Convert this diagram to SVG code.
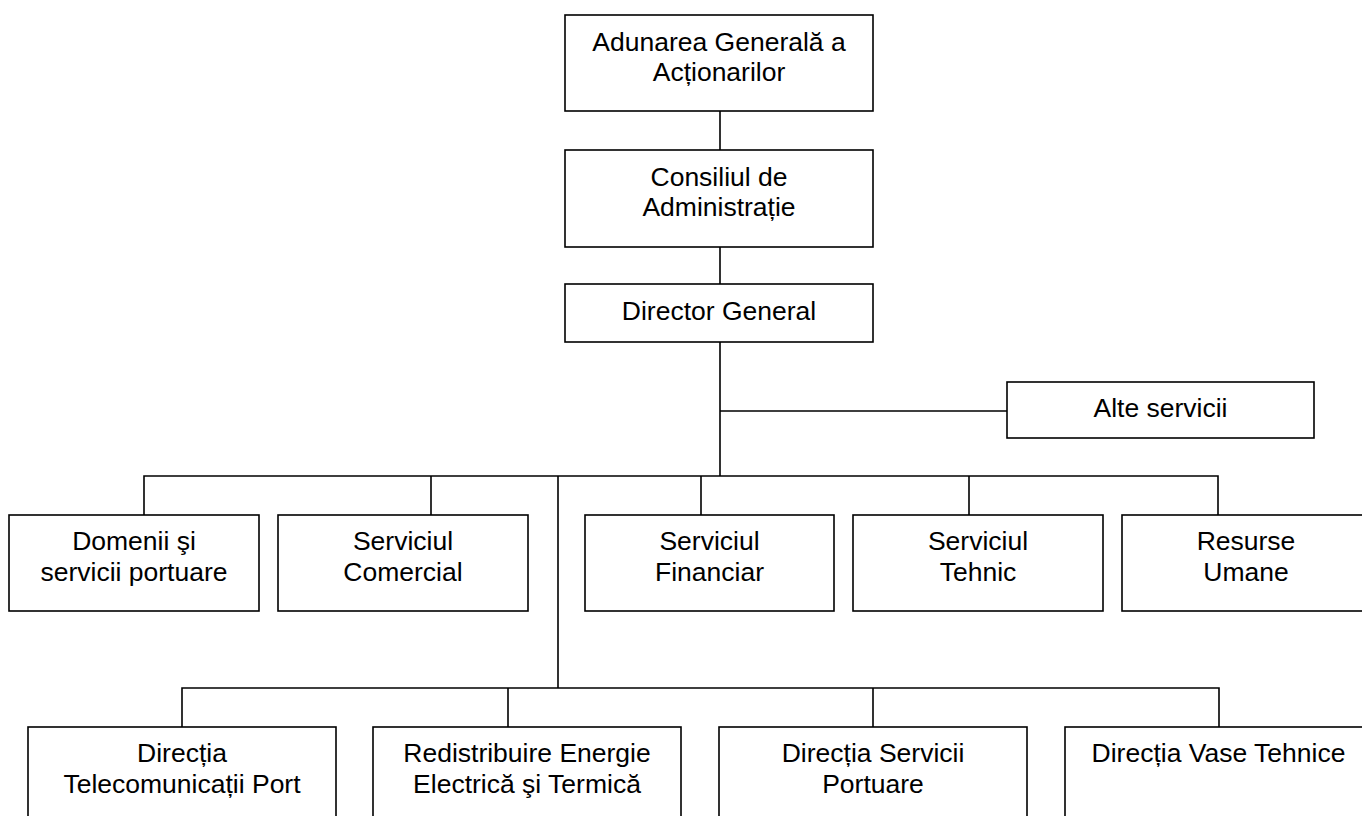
<svg xmlns="http://www.w3.org/2000/svg" width="1362" height="816" viewBox="0 0 1362 816">
<style>
.box{fill:#fff;stroke:#000;stroke-width:1.6}
.t{font-family:"Liberation Sans",Arial,sans-serif;font-size:26.5px;fill:#000;text-anchor:middle}
.c{stroke:#000;stroke-width:1.6;fill:none}
</style>
<rect width="1362" height="816" fill="#fff"/>
<g id="connectors">
<path class="c" d="M720 111V150M720 247V284M720 342V476M720 411H1007"/>
<path class="c" d="M144 515V476H1218V515M431 476V515M701 476V515M969 476V515"/>
<path class="c" d="M558 476V688M182 727V688H1219V727M508 688V727M873 688V727"/>
</g>
<g id="n-adunarea"><rect class="box" x="565" y="15" width="308" height="96"/><text class="t" x="719" y="51">Adunarea Generală a</text><text class="t" x="719" y="81">Acționarilor</text></g>
<g id="n-consiliul"><rect class="box" x="565" y="150" width="308" height="97"/><text class="t" x="719" y="186">Consiliul de</text><text class="t" x="719" y="216">Administrație</text></g>
<g id="n-director"><rect class="box" x="565" y="284" width="308" height="58"/><text class="t" x="719" y="320">Director General</text></g>
<g id="n-alte"><rect class="box" x="1007" y="382" width="307" height="56"/><text class="t" x="1160.5" y="417">Alte servicii</text></g>
<g id="n-domenii"><rect class="box" x="9" y="515" width="250" height="96"/><text class="t" x="134" y="550">Domenii şi</text><text class="t" x="134" y="581">servicii portuare</text></g>
<g id="n-comercial"><rect class="box" x="278" y="515" width="250" height="96"/><text class="t" x="403" y="550">Serviciul</text><text class="t" x="403" y="581">Comercial</text></g>
<g id="n-financiar"><rect class="box" x="585" y="515" width="249" height="96"/><text class="t" x="709.5" y="550">Serviciul</text><text class="t" x="709.5" y="581">Financiar</text></g>
<g id="n-tehnic"><rect class="box" x="853" y="515" width="250" height="96"/><text class="t" x="978" y="550">Serviciul</text><text class="t" x="978" y="581">Tehnic</text></g>
<g id="n-resurse"><rect class="box" x="1122" y="515" width="250" height="96"/><text class="t" x="1246" y="550">Resurse</text><text class="t" x="1246" y="581">Umane</text></g>
<g id="n-telecom"><rect class="box" x="28" y="727" width="308" height="100"/><text class="t" x="182" y="762">Direcția</text><text class="t" x="182" y="793">Telecomunicații Port</text></g>
<g id="n-redistribuire"><rect class="box" x="373" y="727" width="308" height="100"/><text class="t" x="527" y="762">Redistribuire Energie</text><text class="t" x="527" y="793">Electrică şi Termică</text></g>
<g id="n-portuare"><rect class="box" x="719" y="727" width="308" height="100"/><text class="t" x="873" y="762">Direcția Servicii</text><text class="t" x="873" y="793">Portuare</text></g>
<g id="n-vase"><rect class="box" x="1065" y="727" width="308" height="100"/><text class="t" x="1218.5" y="762">Direcția Vase Tehnice</text></g>
</svg>
